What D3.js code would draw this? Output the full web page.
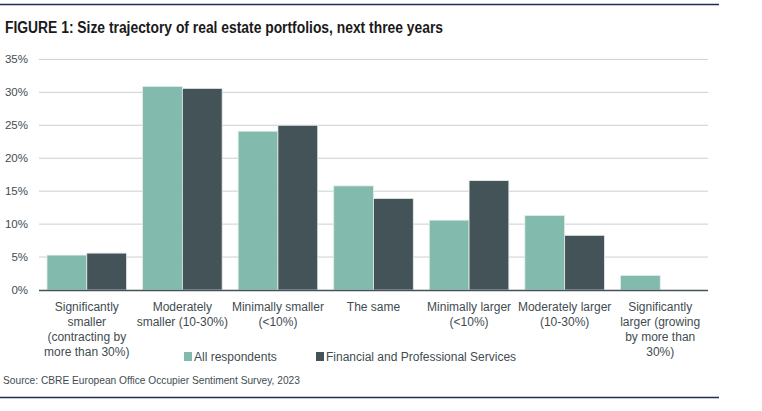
<!DOCTYPE html>
<html>
<head>
<meta charset="utf-8">
<style>
  body { margin: 0; background: #fff; }
  svg { display: block; }
</style>
</head>
<body>
<script src="https://cdn.jsdelivr.net/npm/d3@7"></script>
<script>
// data
var categories = [
  ["Significantly", "smaller", "(contracting by", "more than 30%)"],
  ["Moderately", "smaller (10-30%)"],
  ["Minimally smaller", "(<10%)"],
  ["The same"],
  ["Minimally larger", "(<10%)"],
  ["Moderately larger", "(10-30%)"],
  ["Significantly", "larger (growing", "by more than", "30%)"]
];
var allRespondents = [5.3, 30.9, 24.1, 15.8, 10.6, 11.3, 2.2];
var financialServices = [5.6, 30.6, 25.0, 13.9, 16.6, 8.3, 0];
var seriesNames = ["All respondents", "Financial and Professional Services"];
var yTicks = [0, 5, 10, 15, 20, 25, 30, 35];

var width = 762, height = 411;
var colors = ["#82bbad", "#435358"];
var textColor = "#3f4c52";
var font = "'Liberation Sans', Arial, sans-serif";

var svg = d3.select("body").append("svg")
    .attr("width", width)
    .attr("height", height);

// top and bottom rules
svg.append("line").attr("x1", 0).attr("x2", 719).attr("y1", 4.5).attr("y2", 4.5)
    .attr("stroke", "#1c2e57").attr("stroke-width", 1.5);
svg.append("line").attr("x1", 0).attr("x2", 719).attr("y1", 397.5).attr("y2", 397.5)
    .attr("stroke", "#1c2e57").attr("stroke-width", 1.5);

svg.append("text")
    .attr("x", 5).attr("y", 33)
    .attr("font-family", "'Liberation Sans Narrow', 'Arial Narrow', sans-serif")
    .attr("font-weight", "bold")
    .attr("font-size", 16)
    .attr("textLength", 438)
    .attr("lengthAdjust", "spacingAndGlyphs")
    .attr("fill", "#1a1a1a")
    .text("FIGURE 1: Size trajectory of real estate portfolios, next three years");

var x0 = d3.scaleBand().domain(d3.range(categories.length)).range([39, 708]);
var x1 = d3.scaleBand().domain([0, 1]).range([8, x0.bandwidth() - 8]);
var y = d3.scaleLinear().domain([0, 35]).range([290, 59.4]);

var g = svg.append("g");

// gridlines + y labels
g.selectAll(".grid").data(yTicks.filter(d => d > 0)).join("line")
    .attr("x1", 39).attr("x2", 708)
    .attr("y1", d => y(d)).attr("y2", d => y(d))
    .attr("stroke", "#c9d1d0").attr("stroke-width", 1);

g.selectAll(".ylab").data(yTicks).join("text")
    .attr("x", 28).attr("y", d => y(d) + 4)
    .attr("text-anchor", "end")
    .attr("font-family", font)
    .attr("font-size", 11.5)
    .attr("fill", textColor)
    .text(d => d + "%");

// bars
var rows = categories.map((c, i) => [allRespondents[i], financialServices[i]]);
var groups = g.selectAll(".grp").data(rows).join("g")
    .attr("transform", (d, i) => "translate(" + x0(i) + ",0)");
groups.selectAll("rect").data(d => d).join("rect")
    .attr("x", (d, j) => x1(j))
    .attr("width", x1.bandwidth())
    .attr("y", d => y(d))
    .attr("height", d => y(0) - y(d))
    .attr("fill", (d, j) => colors[j])
    .attr("stroke", d => d > 0 ? "#e4ecea" : "none")
    .attr("stroke-width", 0.8);

// baseline
g.append("line").attr("x1", 39).attr("x2", 708).attr("y1", 290.5).attr("y2", 290.5)
    .attr("stroke", "#435358").attr("stroke-width", 1.5);

// category labels
var labs = g.selectAll(".xlab").data(categories).join("text")
    .attr("text-anchor", "middle")
    .attr("font-family", font)
    .attr("font-size", 12)
    .attr("fill", textColor);
labs.selectAll("tspan").data((d, i) => d.map(t => ({t: t, i: i}))).join("tspan")
    .attr("x", d => x0(d.i) + x0.bandwidth() / 2)
    .attr("y", (d, k) => 311 + k * 15)
    .text(d => d.t);

// legend
var legX = [184, 316];
seriesNames.forEach(function(name, j) {
  svg.append("rect").attr("x", legX[j]).attr("y", 352).attr("width", 8).attr("height", 9)
      .attr("fill", colors[j]);
  svg.append("text").attr("x", legX[j] + 10).attr("y", 361)
      .attr("font-family", font)
      .attr("font-size", 12)
      .attr("fill", textColor)
      .text(name);
});

svg.append("text").attr("x", 3).attr("y", 384)
    .attr("font-family", font)
    .attr("font-size", 10.2)
    .attr("fill", textColor)
    .text("Source: CBRE European Office Occupier Sentiment Survey, 2023");
</script>
</body>
</html>
